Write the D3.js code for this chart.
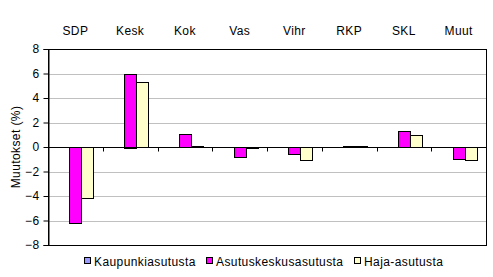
<!DOCTYPE html>
<html>
<head>
<meta charset="utf-8">
<script src="https://cdn.jsdelivr.net/npm/d3@7/dist/d3.min.js"></script>
<style>
  body { margin: 0; background: #fff; }
  text { font-family: "Liberation Sans", Arial, sans-serif; font-size: 12px; letter-spacing: 0.4px; fill: #000; }
</style>
</head>
<body>
<div id="chart"></div>
<script>
// party categories and change (%) per settlement type
var parties = ["SDP", "Kesk", "Kok", "Vas", "Vihr", "RKP", "SKL", "Muut"]
var seriesNames = ["Kaupunkiasutusta", "Asutuskeskusasutusta", "Haja-asutusta"]
var kaupunki = [null, null, null, null, null, null, null, null]
var asutuskeskus = [-6.2, 6.0, 1.1, -0.8, -0.6, 0.1, 1.3, -1.0]
var haja = [-4.2, 5.3, 0.1, -0.1, -1.1, 0.1, 1.0, -1.1]
var yTicks = [-8, -6, -4, -2, 0, 2, 4, 6, 8]
var colors = ["#9999FF", "#FF00FF", "#FFFFCC"]

var margin = { top: 49, right: 7, bottom: 32, left: 48 }
var width = 493 - margin.left - margin.right,
    height = 277 - margin.top - margin.bottom

var svg = d3.select("#chart").append("svg")
  .attr("width", 493)
  .attr("height", 277)

var g = svg.append("g")
  .attr("transform", "translate(" + margin.left + "," + margin.top + ")")

var xScale = d3.scaleBand().domain(parties).range([0, width]).paddingInner(0).paddingOuter(0)
var yScale = d3.scaleLinear().domain([-8, 8]).range([height, 0])

// bars take 3 of 4.5 slots (gap 150%)
var slot = xScale.bandwidth() / 4.5
var innerScale = d3.scaleBand().domain([0, 1, 2])
  .range([slot * 0.75, slot * 3.75])

// gridlines
g.selectAll(".grid")
  .data(yTicks.filter(function(d) { return d !== 0 && d !== 8 && d !== -8 }))
  .enter().append("line")
  .attr("x1", 0).attr("x2", width)
  .attr("y1", function(d) { return Math.round(yScale(d)) + 0.5 })
  .attr("y2", function(d) { return Math.round(yScale(d)) + 0.5 })
  .attr("stroke", "#c0c0c0")

// plot box
g.append("rect")
  .attr("x", 0.5).attr("y", 0.5)
  .attr("width", width).attr("height", height)
  .attr("fill", "none").attr("stroke", "#000")

var allSeries = [kaupunki, asutuskeskus, haja]
allSeries.forEach(function(values, si) {
  g.selectAll(".bar" + si)
    .data(values.map(function(v, i) { return { party: parties[i], value: v } })
      .filter(function(d) { return d.value !== null }))
    .enter().append("rect")
    .attr("x", function(d) { return Math.round(xScale(d.party) + innerScale(si)) + 0.5 })
    .attr("width", Math.round(innerScale.bandwidth()))
    .attr("y", function(d) { return Math.round(yScale(Math.max(0, d.value))) + 0.5 })
    .attr("height", function(d) {
      return Math.max(1, Math.round(Math.abs(yScale(d.value) - yScale(0))))
    })
    .attr("fill", colors[si])
    .attr("stroke", "#000")
})

// x axis at zero, ticks between categories
var zeroY = Math.round(yScale(0)) + 0.5
g.append("line")
  .attr("x1", 0).attr("x2", width)
  .attr("y1", zeroY).attr("y2", zeroY)
  .attr("stroke", "#000")
g.selectAll(".xtick")
  .data(parties.slice(1))
  .enter().append("line")
  .attr("x1", function(d) { return Math.round(xScale(d)) + 0.5 })
  .attr("x2", function(d) { return Math.round(xScale(d)) + 0.5 })
  .attr("y1", zeroY).attr("y2", zeroY + 4)
  .attr("stroke", "#000")

// category labels on top
g.selectAll(".cat")
  .data(parties)
  .enter().append("text")
  .attr("x", function(d) { return xScale(d) + xScale.bandwidth() / 2 })
  .attr("y", -14)
  .attr("text-anchor", "middle")
  .text(function(d) { return d })

// y axis
var yAxis = d3.axisLeft(yScale).tickValues(yTicks).tickSize(5).tickPadding(4)
var yg = g.append("g")
  .attr("transform", "translate(0.5,0)")
  .call(yAxis)
yg.select(".domain").attr("stroke", "#000")
yg.selectAll("line").attr("stroke", "#000")
yg.selectAll("text").style("font-size", "12px").attr("fill", "#000")
  .attr("font-family", "Liberation Sans, Arial, sans-serif")

svg.append("text")
  .attr("transform", "translate(20," + (margin.top + height / 2) + ") rotate(-90)")
  .attr("text-anchor", "middle")
  .text("Muutokset (%)")

// legend
var legendX = [84, 206, 354]
var legend = svg.selectAll(".legend")
  .data(seriesNames)
  .enter().append("g")
  .attr("transform", function(d, i) { return "translate(" + legendX[i] + ",257)" })
legend.append("rect")
  .attr("x", 0.5).attr("y", 0.5)
  .attr("width", 6).attr("height", 6)
  .attr("fill", function(d, i) { return colors[i] })
  .attr("stroke", "#000")
legend.append("text")
  .attr("x", 10).attr("y", 9)
  .text(function(d) { return d })
</script>
</body>
</html>
